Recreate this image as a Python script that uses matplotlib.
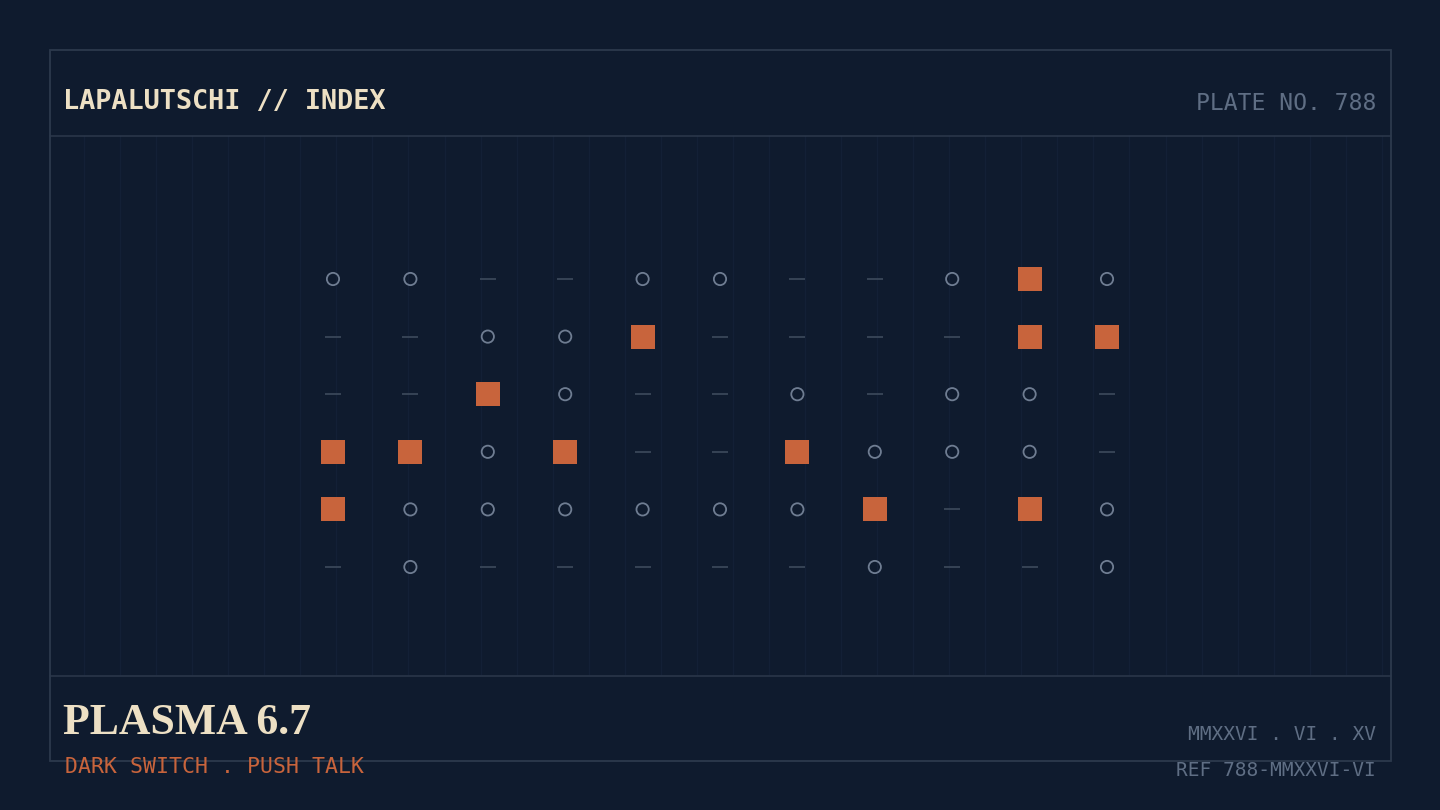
import numpy as np
import matplotlib.pyplot as plt

# grid states: 0 = dash, 1 = ring, 2 = filled square
rows = ["R1", "R2", "R3", "R4", "R5", "R6"]
cols = [f"C{i + 1}" for i in range(11)]
states = [
    [1, 1, 0, 0, 1, 1, 0, 0, 1, 2, 1],
    [0, 0, 1, 1, 2, 0, 0, 0, 0, 2, 2],
    [0, 0, 2, 1, 0, 0, 1, 0, 1, 1, 0],
    [2, 2, 1, 2, 0, 0, 2, 1, 1, 1, 0],
    [2, 1, 1, 1, 1, 1, 1, 2, 0, 2, 1],
    [0, 1, 0, 0, 0, 0, 0, 1, 0, 0, 1],
]

title = "LAPALUTSCHI // INDEX"
plate = "PLATE NO. 788"
name = "PLASMA 6.7"
subtitle = "DARK SWITCH . PUSH TALK"
date_line = "MMXXVI . VI . XV"
ref_line = "REF 788-MMXXVI-VI"

BG = "#0f1b2e"
FRAME = "#2c394c"
CREAM = "#ede0c4"
ORANGE = "#c8643c"
MUTED = "#5f6e84"
RING = "#6f7d92"

W, H = 1440, 810
fig = plt.figure(figsize=(14.4, 8.1), dpi=100, facecolor=BG)

# decoration layer in pixel coordinates
deco = fig.add_axes([0, 0, 1, 1])
deco.set_xlim(0, W)
deco.set_ylim(H, 0)
deco.axis("off")
deco.set_facecolor(BG)
for x in np.arange(84, 1390, 36.05):
    deco.plot([x, x], [136, 674], color="#132036", lw=1, zorder=1)
deco.add_patch(plt.Rectangle((49.5, 49.5), 1341, 711, fill=False, ec=FRAME, lw=1.3, zorder=2))
deco.plot([49.5, 1390.5], [135.5, 135.5], color=FRAME, lw=1.1, zorder=2)
deco.plot([49.5, 1390.5], [675.5, 675.5], color=FRAME, lw=1.1, zorder=2)

deco.text(63, 102, title, color=CREAM, fontsize=19.4, fontweight="bold",
          family="DejaVu Sans Mono", va="center", ha="left")
deco.text(1376, 103, plate, color=MUTED, fontsize=16.6,
          family="DejaVu Sans Mono", va="center", ha="right")
deco.text(63, 723, name, color=CREAM, fontsize=31.5, fontweight="bold",
          family="Liberation Serif", va="center", ha="left")
deco.text(65, 767, subtitle, color=ORANGE, fontsize=15.5,
          family="DejaVu Sans Mono", va="center", ha="left")
deco.text(1376, 735, date_line, color=MUTED, fontsize=14,
          family="DejaVu Sans Mono", va="center", ha="right")
deco.text(1376, 771, ref_line, color=MUTED, fontsize=14,
          family="DejaVu Sans Mono", va="center", ha="right")

# data grid
ax = fig.add_axes([49 / W, 1 - 675 / H, (1391 - 49) / W, (675 - 135) / H])
ax.patch.set_alpha(0)
ax.set_xlim(-3.669, 13.669)
ax.set_ylim(6.875, -2.5)
ax.axis("off")

arr = np.array(states)
yy, xx = np.indices(arr.shape)
m = arr == 0
ax.scatter(xx[m], yy[m], marker="_", s=130, color="#3a4759", linewidths=1.3, zorder=3)
m = arr == 1
ax.scatter(xx[m], yy[m], marker="o", s=78, facecolors="none", edgecolors=RING, linewidths=1.3, zorder=3)
m = arr == 2
ax.scatter(xx[m], yy[m], marker="s", s=300, color=ORANGE, linewidths=0, zorder=3)

fig.savefig("out.png", dpi=100, facecolor=BG)
